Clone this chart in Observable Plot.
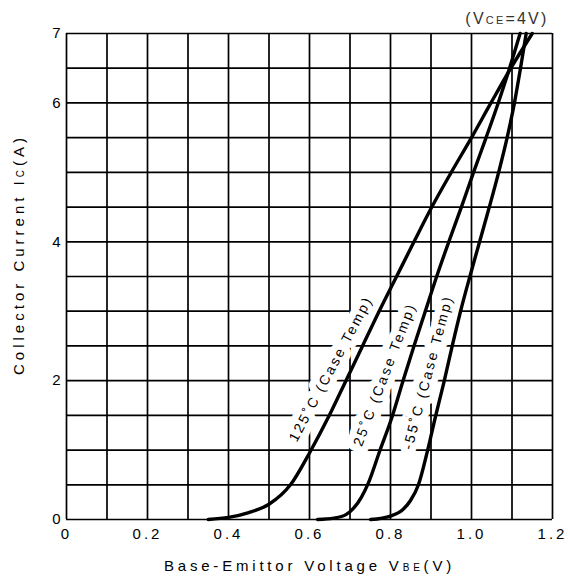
<!DOCTYPE html>
<html>
<head>
<meta charset="utf-8">
<script src="https://cdn.jsdelivr.net/npm/d3@7"></script>
<script src="https://cdn.jsdelivr.net/npm/@observablehq/plot@0.6"></script>
<style>
  html, body { margin: 0; padding: 0; background: #fff; }
  #chart svg { display: block; font-family: "Liberation Sans", Arial, sans-serif; }
</style>
</head>
<body>
<div id="chart"></div>
<script>
// ---- data ----
const xTicks = [0, 0.2, 0.4, 0.6, 0.8, 1.0, 1.2];
const yTicks = [0, 2, 4, 6, 7];
const xGrid = [0, 0.1, 0.2, 0.3, 0.4, 0.5, 0.6, 0.7, 0.8, 0.9, 1.0, 1.1, 1.2];
const yGrid = [0, 0.5, 1, 1.5, 2, 2.5, 3, 3.5, 4, 4.5, 5, 5.5, 6, 6.5, 7];

const vbe125 = [0.35, 0.40, 0.45, 0.50, 0.553, 0.602, 0.649, 0.690, 0.731, 0.772, 0.815, 0.858, 0.902, 0.950, 1.000, 1.048, 1.097, 1.150];
const ic125  = [0, 0.03, 0.10, 0.22, 0.50, 0.98, 1.50, 2.00, 2.50, 3.00, 3.50, 4.00, 4.50, 5.00, 5.50, 6.00, 6.50, 7.00];

const vbe25 = [0.62, 0.66, 0.69, 0.71, 0.728, 0.745, 0.773, 0.804, 0.831, 0.858, 0.886, 0.914, 0.944, 0.975, 1.005, 1.036, 1.066, 1.094, 1.120];
const ic25  = [0, 0.02, 0.07, 0.17, 0.32, 0.52, 0.98, 1.48, 2.00, 2.50, 3.00, 3.50, 4.00, 4.50, 5.00, 5.50, 6.00, 6.50, 7.00];

const vbeM55 = [0.751, 0.80, 0.83, 0.849, 0.869, 0.891, 0.911, 0.932, 0.952, 0.973, 0.996, 1.020, 1.044, 1.067, 1.088, 1.106, 1.121, 1.135];
const icM55  = [0, 0.05, 0.14, 0.27, 0.50, 0.98, 1.48, 1.98, 2.49, 3.00, 3.50, 4.00, 4.50, 5.00, 5.50, 6.00, 6.50, 7.00];

const seriesNames = ["125˚C", "25˚C", "-55˚C"];
const labelTexts = ["125˚C (Case Temp)", "25˚C (Case Temp)", "-55˚C (Case Temp)"];
const labelX = [0.653, 0.786, 0.893];
const labelY = [2.17, 2.09, 2.12];
const labelAngle = [-62, -69, -75];

const title = "(VCE=4V)";
const xLabel = "Base-Emittor Voltage VBE(V)";
const yLabel = "Collector Current IC(A)";

// ---- build table ----
const curves = [];
[[vbe125, ic125], [vbe25, ic25], [vbeM55, icM55]].forEach(([xs, ys], k) => {
  xs.forEach((v, i) => curves.push({series: seriesNames[k], vbe: v, ic: ys[i]}));
});
const labels = labelTexts.map((t, i) => ({text: t, x: labelX[i], y: labelY[i], a: labelAngle[i]}));

const chart = Plot.plot({
  width: 570,
  height: 579,
  marginLeft: 66,
  marginRight: 18,
  marginTop: 33,
  marginBottom: 60,
  style: {fontFamily: '"Liberation Sans", Arial, sans-serif', background: "white", color: "black"},
  x: {domain: [0, 1.2], ticks: xTicks, tickFormat: d => d === 0 ? "0" : d.toFixed(1), tickSize: 0, tickPadding: 9, label: null},
  y: {domain: [0, 7], ticks: yTicks, tickFormat: d => String(d), tickSize: 0, tickPadding: 6, label: null},
  marks: [
    Plot.ruleX(xGrid, {stroke: "black", strokeWidth: 1.7}),
    Plot.ruleY(yGrid, {stroke: "black", strokeWidth: 1.7}),
    Plot.text(labels, {x: "x", y: "y", text: "text", rotate: "a", fontSize: 14,
      fill: "black", stroke: "white", strokeWidth: 14, paintOrder: "stroke", strokeLinejoin: "round"}),
    Plot.line(curves, {x: "vbe", y: "ic", z: "series", stroke: "black", strokeWidth: 3.4, curve: "monotone-x"}),
    Plot.text([title], {frameAnchor: "top-right", dx: -4, dy: -21, textAnchor: "end", fontSize: 16, fill: "#333"}),
    Plot.text([xLabel], {frameAnchor: "bottom", dy: 51, textAnchor: "middle", fontSize: 15, fill: "black"}),
    Plot.text([yLabel], {frameAnchor: "left", dx: -47, dy: -22, rotate: -90, textAnchor: "middle", fontSize: 15, fill: "black"})
  ]
});

document.getElementById("chart").appendChild(chart);

// ---- typographic touches: letter spacing and small subscripts ----
const svg = d3.select(chart.tagName === "svg" ? chart : chart.querySelector("svg"));
function subscript(node, before, sub, after, big, small) {
  const t = d3.select(node);
  t.text(null);
  t.append("tspan").text(before);
  t.append("tspan").attr("font-size", small).text(sub);
  t.append("tspan").attr("font-size", big).text(after);
}
svg.selectAll("text").each(function() {
  const s = this.textContent;
  const el = d3.select(this);
  if (s === xLabel) {
    el.style("letter-spacing", "3.8px");
    subscript(this, "Base-Emittor Voltage V", "BE", "(V)", 15, 10);
  } else if (s === yLabel) {
    el.style("letter-spacing", "4px");
    subscript(this, "Collector Current I", "C", "(A)", 15, 10);
  } else if (s === title) {
    el.style("letter-spacing", "2.2px");
    subscript(this, "(V", "CE", "=4V)", 16, 11);
  } else if (labelTexts.includes(s)) {
    el.style("letter-spacing", "2.4px");
  }
});
// tick labels
svg.selectAll('g[aria-label^="x-axis"] text').style("letter-spacing", "3px");
svg.selectAll('g[aria-label^="x-axis"], g[aria-label^="y-axis"]').attr("font-size", 15);
</script>
</body>
</html>
